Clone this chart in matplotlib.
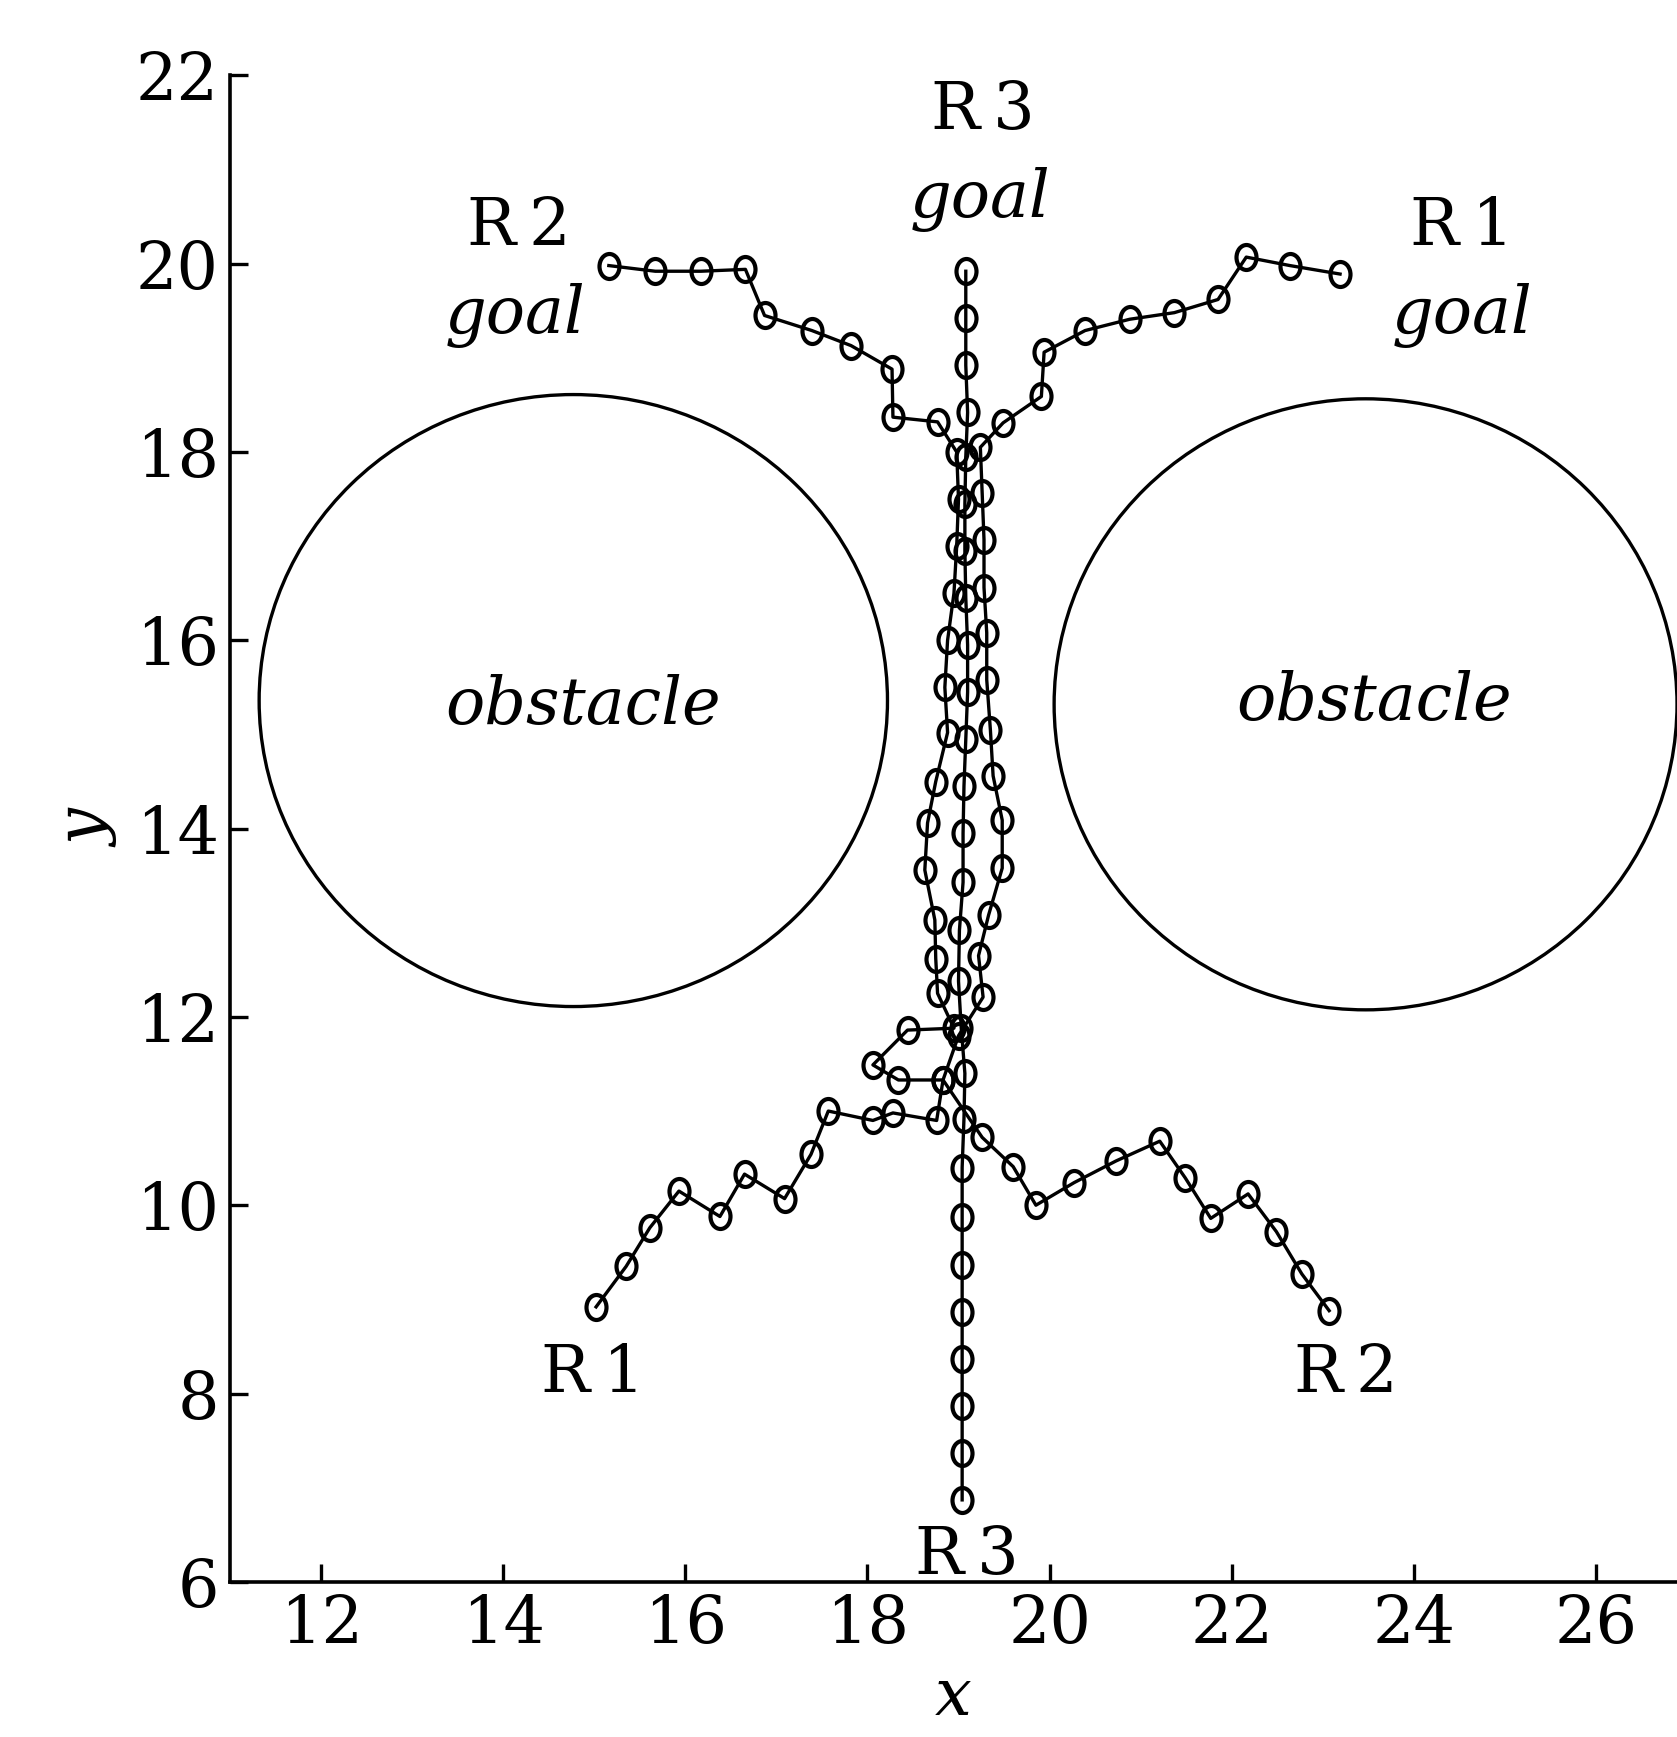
import matplotlib
matplotlib.use("Agg")
import matplotlib.pyplot as plt
import numpy as np
from matplotlib.path import Path
from matplotlib.patches import Ellipse

# ---------------- data ----------------
r1_x = [15.02, 15.35, 15.61, 15.93, 16.38, 16.65, 17.09, 17.38, 17.57, 18.06, 18.28, 18.76,
        18.83, 19.00, 19.27, 19.22, 19.33, 19.48, 19.48, 19.38, 19.35, 19.31, 19.31, 19.28,
        19.28, 19.26, 19.24, 19.49, 19.91, 19.94, 20.39, 20.88, 21.37, 21.85, 22.16, 22.64, 23.19]
r1_y = [8.92, 9.35, 9.76, 10.15, 9.88, 10.33, 10.07, 10.54, 11.00, 10.90, 10.98, 10.90,
        11.33, 11.80, 12.21, 12.65, 13.08, 13.58, 14.09, 14.56, 15.05, 15.58, 16.08, 16.56,
        17.07, 17.56, 18.05, 18.31, 18.59, 19.06, 19.29, 19.41, 19.48, 19.62, 20.07, 19.98, 19.89]

r2_x = [23.07, 22.77, 22.49, 22.18, 21.77, 21.49, 21.21, 20.73, 20.27, 19.85, 19.60, 19.26,
        18.83, 18.34, 18.06, 18.44, 18.95, 18.77, 18.75, 18.74, 18.63, 18.66, 18.75, 18.88,
        18.85, 18.88, 18.95, 18.98, 19.00, 18.98, 18.77, 18.28, 18.27, 17.82, 17.39, 16.87,
        16.66, 16.17, 15.67, 15.16]
r2_y = [8.88, 9.27, 9.72, 10.12, 9.86, 10.29, 10.68, 10.47, 10.24, 10.00, 10.41, 10.72,
        11.33, 11.33, 11.49, 11.86, 11.88, 12.25, 12.62, 13.03, 13.56, 14.06, 14.50, 15.02,
        15.50, 16.00, 16.50, 17.00, 17.50, 18.00, 18.32, 18.37, 18.88, 19.13, 19.29, 19.45,
        19.94, 19.92, 19.92, 19.98]

r3_x = [19.04, 19.04, 19.04, 19.04, 19.04, 19.04, 19.04, 19.04, 19.06, 19.07, 19.03, 19.00,
        19.01, 19.05, 19.05, 19.06, 19.08, 19.10, 19.10, 19.08, 19.07, 19.07, 19.08, 19.10,
        19.08, 19.08, 19.08]
r3_y = [6.87, 7.37, 7.87, 8.37, 8.87, 9.37, 9.87, 10.40, 10.92, 11.40, 11.88, 12.38,
        12.92, 13.43, 13.95, 14.45, 14.95, 15.45, 15.95, 16.45, 16.95, 17.45, 17.95, 18.42,
        18.92, 19.42, 19.92]

obstacle_cx = [14.77, 23.47]
obstacle_cy = [15.36, 15.32]
obstacle_w = [6.90, 6.84]
obstacle_h = [6.50, 6.49]

x_ticks = [12, 14, 16, 18, 20, 22, 24, 26]
y_ticks = [6, 8, 10, 12, 14, 16, 18, 20, 22]

labels_text = ["R\u20093", "R\u20092", "R\u20091", "R\u20091", "R\u20092", "R\u20093"]
labels_x = [19.27, 14.17, 24.53, 14.98, 23.25, 19.09]
labels_y = [21.62, 20.39, 20.39, 8.21, 8.21, 6.27]

goal_x = [19.24, 14.13, 24.53]
goal_y = [20.68, 19.45, 19.45]

obst_label_x = [14.88, 23.56]
obst_label_y = [15.31, 15.35]

# ---------------- figure ----------------
W, H = 1677, 1737
fig = plt.figure(figsize=(W / 100, H / 100), dpi=100)
ax = fig.add_axes([230 / W, (H - 1581.8) / H, (W - 230) / W, (1581.8 - 75.4) / H])
ax.set_xlim(11.0, 26.89)
ax.set_ylim(6, 22)

FS = 47
serif = ["DejaVu Serif"]

uc = Path.unit_circle()
ell = Path(uc.vertices * np.array([0.8, 1.0]), uc.codes)

for xs, ys in [(r1_x, r1_y), (r2_x, r2_y), (r3_x, r3_y)]:
    ax.plot(xs, ys, color="black", lw=2.4, marker=ell, markersize=18,
            markerfacecolor="none", markeredgecolor="black", markeredgewidth=3.0,
            clip_on=False, zorder=3)

for cx, cy, w, h in zip(obstacle_cx, obstacle_cy, obstacle_w, obstacle_h):
    ax.add_patch(Ellipse((cx, cy), w, h, fill=False, ec="black", lw=2.4))

for t, x, y in zip(labels_text, labels_x, labels_y):
    ax.text(x, y, t, fontsize=FS, family=serif, ha="center", va="center")
for x, y in zip(goal_x, goal_y):
    ax.text(x, y, "goal", fontsize=FS, family=serif, style="italic", ha="center", va="center")
for x, y in zip(obst_label_x, obst_label_y):
    ax.text(x, y, "obstacle", fontsize=FS, family=serif, style="italic", ha="center", va="center")

for s in ["top", "right"]:
    ax.spines[s].set_visible(False)
for s in ["left", "bottom"]:
    ax.spines[s].set_linewidth(2.6)

ax.set_xticks(x_ticks)
ax.set_yticks(y_ticks)
ax.set_xticklabels([str(v) for v in x_ticks], family=serif, fontsize=FS)
ax.set_yticklabels([str(v) for v in y_ticks], family=serif, fontsize=FS)
ax.tick_params(direction="in", length=13, width=2.4, pad=8)

ax.set_xlabel("x", family=serif, style="italic", fontsize=FS, labelpad=6)
ax.set_ylabel("y", family=serif, style="italic", fontsize=FS, labelpad=12)

fig.savefig("out.png", dpi=100)
